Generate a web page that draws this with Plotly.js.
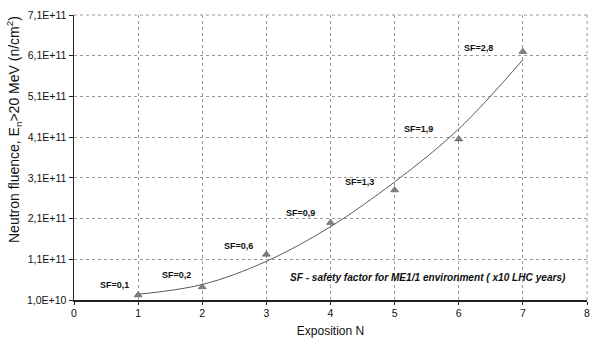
<!DOCTYPE html>
<html>
<head>
<meta charset="utf-8">
<script src="https://cdn.plot.ly/plotly-3.0.1.min.js"></script>
<style>html,body{margin:0;padding:0;background:#fff}#chart{width:590px;height:343px}</style>
</head>
<body>
<div id="chart"></div>
<script>
// Measured points (exposition N vs neutron fluence)
const expositions = [1, 2, 3, 4, 5, 6, 7];
const fluence = [2.2e10, 4.2e10, 1.22e11, 2.0e11, 2.8e11, 4.05e11, 6.2e11];
const safetyLabels = ["SF=0,1", "SF=0,2", "SF=0,6", "SF=0,9", "SF=1,3", "SF=1,9", "SF=2,8"];
// Trend curve
const trendX = [1, 2, 3, 4, 5, 6, 7];
const trendY = [2.4e10, 4.8e10, 1.05e11, 1.9e11, 3.0e11, 4.3e11, 6.0e11];
// Axis ticks
const yTickVals = [1e10, 1.1e11, 2.1e11, 3.1e11, 4.1e11, 5.1e11, 6.1e11, 7.1e11];
const yTickText = ["1,0E+10", "1,1E+11", "2,1E+11", "3,1E+11", "4,1E+11", "5,1E+11", "6,1E+11", "7,1E+11"];
const xTickVals = [0, 1, 2, 3, 4, 5, 6, 7, 8];

const FONT = "Arial, 'Liberation Sans', sans-serif";
const labelShift = [[-24,10],[-26,12],[-28,8],[-30,10],[-35,8],[-40,10],[-44,4]];

const traces = [
  {x: trendX, y: trendY, mode: "lines", line: {shape: "spline", color: "#5a5a5a", width: 1}, hoverinfo: "skip"},
  {x: expositions, y: fluence, mode: "markers", marker: {symbol: "triangle-up", size: 7, color: "#808080", line: {color: "#444", width: 0.5}}}
];

const annotations = safetyLabels.map((t, i) => ({
  x: expositions[i], y: fluence[i], xref: "x", yref: "y", text: "<b>" + t + "</b>",
  showarrow: false, xshift: labelShift[i][0], yshift: labelShift[i][1],
  font: {family: FONT, size: 9, color: "#111"}
}));
annotations.push({
  xref: "paper", yref: "paper", x: (288-74)/513, y: (300-277)/285, xanchor: "left", yanchor: "middle",
  text: "<b><i>SF - safety factor for ME1/1 environment ( x10 LHC years)</i></b>", showarrow: false,
  font: {family: FONT, size: 10.1, color: "#111"}
});
annotations.push({
  xref: "paper", yref: "paper", x: (14-74)/513, y: (300-130)/285, xanchor: "center", yanchor: "middle",
  textangle: -90, showarrow: false,
  text: "Neutron fluence, E<sub>n</sub>>20 MeV (n/cm<sup>2</sup>)",
  font: {family: FONT, size: 14, color: "#111"}
});

const layout = {
  width: 590, height: 343,
  margin: {l: 74, r: 3, t: 15, b: 43},
  paper_bgcolor: "#fff", plot_bgcolor: "#fff",
  showlegend: false,
  font: {family: FONT, size: 10, color: "#111"},
  xaxis: {
    range: [0, 8], tickvals: xTickVals, ticks: "outside", ticklen: 3, tickcolor: "#222",
    ticklabeloverflow: "allow",
    showline: true, linecolor: "#222", linewidth: 1.5,
    showgrid: true, gridcolor: "#999", griddash: "dot", gridwidth: 1, zeroline: false,
    tickfont: {family: FONT, size: 10.5, color: "#111"},
    title: {text: "Exposition N", font: {family: FONT, size: 12, color: "#111"}, standoff: 8}
  },
  yaxis: {
    range: [1e10, 7.1e11], tickvals: yTickVals, ticktext: yTickText, ticks: "outside", ticklen: 4, tickcolor: "#222",
    ticklabeloverflow: "allow",
    showline: true, linecolor: "#222", linewidth: 1.5,
    showgrid: true, gridcolor: "#999", griddash: "dot", gridwidth: 1, zeroline: false,
    tickfont: {family: FONT, size: 10.5, color: "#111"}
  },
  shapes: [
    {type: "line", xref: "paper", yref: "paper", x0: 0, x1: 1, y0: 1, y1: 1, line: {color: "#999", width: 1, dash: "dot"}},
    {type: "line", xref: "paper", yref: "paper", x0: 1, x1: 1, y0: 0, y1: 1, line: {color: "#999", width: 1, dash: "dot"}}
  ],
  annotations: annotations
};

Plotly.newPlot("chart", traces, layout, {staticPlot: true, displayModeBar: false});
</script>
</body>
</html>
